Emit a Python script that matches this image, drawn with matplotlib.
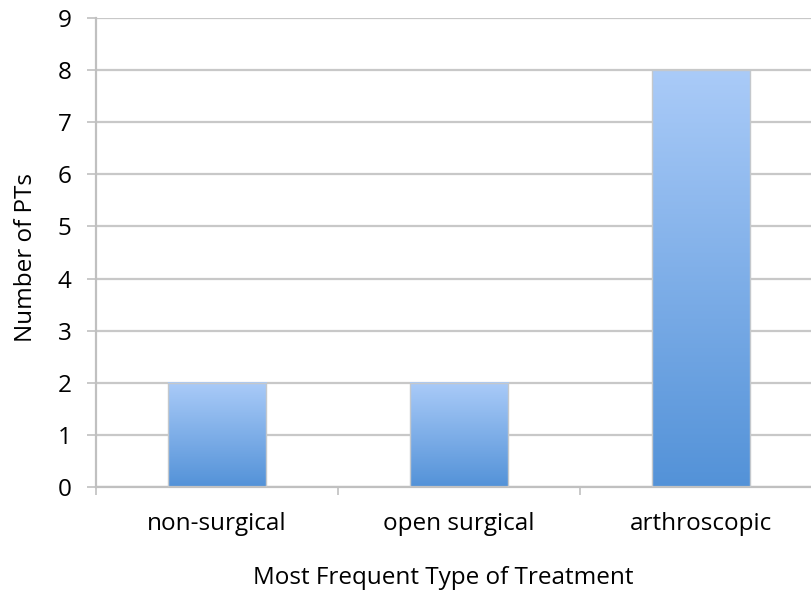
import numpy as np
import matplotlib.pyplot as plt
from matplotlib.colors import LinearSegmentedColormap

categories = ['non-surgical', 'open surgical', 'arthroscopic']
counts = [2, 2, 8]

plt.rcParams['font.family'] = ['Open Sans', 'DejaVu Sans']
fs = 17.5

fig = plt.figure(figsize=(8.12, 5.92), dpi=100)
ax = fig.add_axes([96 / 812, 1 - 487 / 592, 726 / 812, 469 / 592])

grad = LinearSegmentedColormap.from_list('barblue', ['#5392d8', '#aacbf8'])
x = np.arange(len(categories))
width = 0.405

bars = ax.bar(x, counts, width=width, color='none', edgecolor='#c4c8cc',
              linewidth=1.0, zorder=3)
for b in bars:
    x0, y0 = b.get_x(), b.get_y()
    w, h = b.get_width(), b.get_height()
    ax.imshow(np.linspace(0, 1, 256).reshape(-1, 1), cmap=grad,
              origin='lower', aspect='auto',
              extent=(x0, x0 + w, y0, y0 + h), zorder=2)

ax.set_xlim(-0.5, len(categories) - 0.5)
ax.set_ylim(0, 9)
ax.set_yticks(range(0, 10))
ax.yaxis.grid(True, color='#c8c8c8', linewidth=1.6, zorder=0)
ax.set_axisbelow(True)

ax.set_xticks(x)
ax.set_xticklabels(categories, fontsize=fs)
ax.set_xticks(np.arange(-0.5, len(categories) + 0.5), minor=True)
ax.tick_params(axis='x', which='major', length=0, pad=18)
ax.tick_params(axis='x', which='minor', length=6, width=1.2, color='#c0c0c0')
ax.tick_params(axis='y', length=6.5, width=1.2, color='#c0c0c0',
               labelsize=fs, pad=11)

for s in ['top', 'right']:
    ax.spines[s].set_visible(False)
for s in ['left', 'bottom']:
    ax.spines[s].set_color('#c0c0c0')
    ax.spines[s].set_linewidth(1.6)

fig.text(443 / 812, 1 - 578 / 592, 'Most Frequent Type of Treatment',
         fontsize=fs, ha='center', va='center')
fig.text(26 / 812, 1 - 257 / 592, 'Number of PTs', fontsize=fs,
         rotation=90, ha='center', va='center')

fig.savefig('out.png', dpi=100)
